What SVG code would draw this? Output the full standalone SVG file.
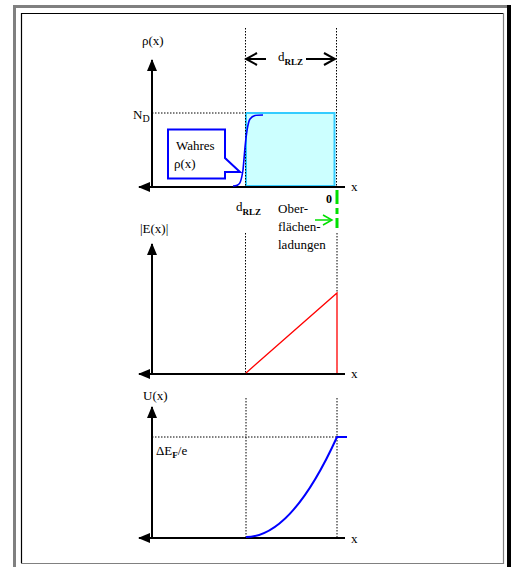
<svg xmlns="http://www.w3.org/2000/svg" width="511" height="567" viewBox="0 0 511 567">
<style>
text{font-family:"Liberation Serif","Times New Roman",serif;font-size:13px;fill:#000}
.sub{font-size:9px;font-weight:bold}
.ax{stroke:#000;stroke-width:2;fill:none}
.dot{stroke:#000;stroke-width:1;stroke-dasharray:1.5,1.5;fill:none}
</style>
<defs>
<marker id="tri" markerWidth="12" markerHeight="10" refX="11" refY="5" orient="auto" markerUnits="userSpaceOnUse"><path d="M0,0 L12,5 L0,10 Z" fill="#000"/></marker>
<marker id="open" markerWidth="14" markerHeight="14" refX="12" refY="7" orient="auto" markerUnits="userSpaceOnUse"><path d="M1,1 L12,7 L1,13" fill="none" stroke="#000" stroke-width="2"/></marker>
<marker id="gopen" markerWidth="12" markerHeight="12" refX="10" refY="6" orient="auto" markerUnits="userSpaceOnUse"><path d="M1,1 L10,6 L1,11" fill="none" stroke="#00e000" stroke-width="1.5"/></marker>
</defs>
<rect width="511" height="567" fill="#fff"/>
<g id="frame">
<rect x="13" y="5" width="494" height="3" fill="#808080"/>
<rect x="13" y="5" width="3" height="562" fill="#808080"/>
<rect x="507" y="5" width="4" height="562" fill="#000"/>
<path d="M21.5,563 V13.5 H503" stroke="#000" stroke-width="1.2" fill="none"/>
<path d="M21,563.5 H503.5 V13" stroke="#808080" stroke-width="1.2" fill="none"/>
</g>
<g id="plot1">
<rect x="246" y="113" width="88.5" height="73" fill="#ccffff" stroke="#33ccff" stroke-width="2"/>
<path class="dot" d="M152,113 H245"/>
<path class="dot" d="M245.5,28 V186 M336.5,28 V186"/>
<path class="ax" d="M152,187 V60" marker-end="url(#tri)"/>
<path class="ax" d="M345,187 H139" marker-end="url(#tri)"/>
<path d="M233,186 C240,186 241,183 243,170 C245,150 246,125 250,119 C253,115 256,115 263,115" stroke="#0000ff" stroke-width="1.6" fill="none"/>
<path d="M168,129.5 H225 V158 L240,172 L225,172 V178.5 H168 Z" fill="#fff" stroke="#0000ff" stroke-width="2"/>
<text x="176" y="150">Wahres</text>
<text x="174" y="168">ρ(x)</text>
<text x="142" y="45">ρ(x)</text>
<text x="133" y="119">N<tspan class="sub" dy="3" style="font-weight:normal;font-size:10px">D</tspan></text>
<text x="351" y="191">x</text>
<path d="M266,59 H246" stroke="#000" stroke-width="2" marker-end="url(#open)"/>
<path d="M306,59 H335" stroke="#000" stroke-width="2" marker-end="url(#open)"/>
<text x="278" y="61">d<tspan class="sub" dy="4">RLZ</tspan></text>
</g>
<g id="surface">
<text x="236" y="211">d<tspan class="sub" dy="4">RLZ</tspan></text>
<text x="326" y="203" style="font-weight:bold;font-size:12px">0</text>
<path d="M337,190 V228" stroke="#00e000" stroke-width="3" stroke-dasharray="14,4,6,4"/>
<path d="M315,220 H332" stroke="#00e000" stroke-width="1.5" marker-end="url(#gopen)"/>
<text x="278" y="213">Ober-</text>
<text x="278" y="231">flächen-</text>
<text x="278" y="249">ladungen</text>
</g>
<g id="plot2">
<path class="dot" d="M245.5,233 V373 M337,233 V293"/>
<path class="ax" d="M152,374 V244" marker-end="url(#tri)"/>
<path class="ax" d="M345,374 H139" marker-end="url(#tri)"/>
<path d="M246,373 L337,293 V373" stroke="#ff0000" stroke-width="1.3" fill="none"/>
<text x="140" y="233">|E(x)|</text>
<text x="351" y="378">x</text>
</g>
<g id="plot3">
<path class="dot" d="M152,437 H337"/>
<path class="dot" d="M246,398 V537 M337,398 V537"/>
<path class="ax" d="M152,538 V407" marker-end="url(#tri)"/>
<path class="ax" d="M345,538 H139" marker-end="url(#tri)"/>
<path d="M246,537 Q291.5,537 337,437 H347" stroke="#0000ff" stroke-width="2" fill="none"/>
<text x="143" y="400">U(x)</text>
<text x="156" y="455">ΔE<tspan class="sub" dy="3">F</tspan><tspan dy="-3">/e</tspan></text>
<text x="351" y="543">x</text>
</g>
</svg>
